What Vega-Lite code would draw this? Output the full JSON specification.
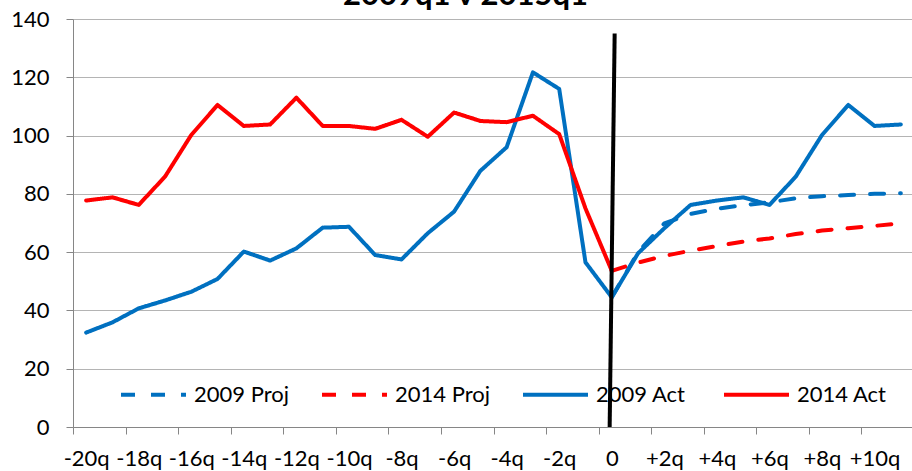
{
  "$schema": "https://vega.github.io/schema/vega-lite/v6.json",
  "width": 841,
  "height": 408,
  "autosize": {"type": "none"},
  "padding": {"left": 73, "top": 19, "right": 0, "bottom": 44},
  "background": "white",
  "config": {"view": {"stroke": null}, "font": "Lato"},
  "title": {"text": "2009q1 v 2015q1", "font": "Lato", "fontSize": 31, "fontWeight": "bold", "color": "#000000", "anchor": "middle", "frame": "group", "dx": -28, "offset": -35, "baseline": "bottom"},
  "datasets": {
    "series": [
      {"q": 0, "v": 44.5, "s": "2009 Proj"}, {"q": 1, "v": 60.0, "s": "2009 Proj"}, {"q": 2, "v": 69.9, "s": "2009 Proj"}, {"q": 3, "v": 73.1, "s": "2009 Proj"}, {"q": 4, "v": 74.9, "s": "2009 Proj"}, {"q": 5, "v": 76.1, "s": "2009 Proj"}, {"q": 6, "v": 77.1, "s": "2009 Proj"}, {"q": 7, "v": 78.5, "s": "2009 Proj"}, {"q": 8, "v": 79.2, "s": "2009 Proj"}, {"q": 9, "v": 79.6, "s": "2009 Proj"}, {"q": 10, "v": 80.0, "s": "2009 Proj"}, {"q": 11, "v": 80.2, "s": "2009 Proj"},
      {"q": 0, "v": 53.6, "s": "2014 Proj"}, {"q": 1, "v": 56.4, "s": "2014 Proj"}, {"q": 2, "v": 58.7, "s": "2014 Proj"}, {"q": 3, "v": 60.5, "s": "2014 Proj"}, {"q": 4, "v": 62.1, "s": "2014 Proj"}, {"q": 5, "v": 63.6, "s": "2014 Proj"}, {"q": 6, "v": 64.7, "s": "2014 Proj"}, {"q": 7, "v": 66.2, "s": "2014 Proj"}, {"q": 8, "v": 67.4, "s": "2014 Proj"}, {"q": 9, "v": 68.2, "s": "2014 Proj"}, {"q": 10, "v": 69.0, "s": "2014 Proj"}, {"q": 11, "v": 69.9, "s": "2014 Proj"},
      {"q": -20, "v": 32.4, "s": "2009 Act"}, {"q": -19, "v": 35.9, "s": "2009 Act"}, {"q": -18, "v": 40.7, "s": "2009 Act"}, {"q": -17, "v": 43.4, "s": "2009 Act"}, {"q": -16, "v": 46.4, "s": "2009 Act"}, {"q": -15, "v": 50.8, "s": "2009 Act"}, {"q": -14, "v": 60.2, "s": "2009 Act"}, {"q": -13, "v": 57.1, "s": "2009 Act"}, {"q": -12, "v": 61.3, "s": "2009 Act"}, {"q": -11, "v": 68.4, "s": "2009 Act"}, {"q": -10, "v": 68.7, "s": "2009 Act"}, {"q": -9, "v": 59.0, "s": "2009 Act"}, {"q": -8, "v": 57.5, "s": "2009 Act"}, {"q": -7, "v": 66.5, "s": "2009 Act"}, {"q": -6, "v": 73.9, "s": "2009 Act"}, {"q": -5, "v": 87.9, "s": "2009 Act"}, {"q": -4, "v": 96.0, "s": "2009 Act"}, {"q": -3, "v": 121.7, "s": "2009 Act"}, {"q": -2, "v": 116.0, "s": "2009 Act"}, {"q": -1, "v": 56.5, "s": "2009 Act"}, {"q": 0, "v": 44.5, "s": "2009 Act"}, {"q": 1, "v": 59.6, "s": "2009 Act"}, {"q": 2, "v": 68.2, "s": "2009 Act"}, {"q": 3, "v": 76.2, "s": "2009 Act"}, {"q": 4, "v": 77.7, "s": "2009 Act"}, {"q": 5, "v": 78.8, "s": "2009 Act"}, {"q": 6, "v": 76.2, "s": "2009 Act"}, {"q": 7, "v": 85.9, "s": "2009 Act"}, {"q": 8, "v": 100.2, "s": "2009 Act"}, {"q": 9, "v": 110.5, "s": "2009 Act"}, {"q": 10, "v": 103.3, "s": "2009 Act"}, {"q": 11, "v": 103.8, "s": "2009 Act"},
      {"q": -20, "v": 77.7, "s": "2014 Act"}, {"q": -19, "v": 78.8, "s": "2014 Act"}, {"q": -18, "v": 76.2, "s": "2014 Act"}, {"q": -17, "v": 85.9, "s": "2014 Act"}, {"q": -16, "v": 100.2, "s": "2014 Act"}, {"q": -15, "v": 110.5, "s": "2014 Act"}, {"q": -14, "v": 103.3, "s": "2014 Act"}, {"q": -13, "v": 103.8, "s": "2014 Act"}, {"q": -12, "v": 113.0, "s": "2014 Act"}, {"q": -11, "v": 103.3, "s": "2014 Act"}, {"q": -10, "v": 103.3, "s": "2014 Act"}, {"q": -9, "v": 102.3, "s": "2014 Act"}, {"q": -8, "v": 105.4, "s": "2014 Act"}, {"q": -7, "v": 99.6, "s": "2014 Act"}, {"q": -6, "v": 107.9, "s": "2014 Act"}, {"q": -5, "v": 105.0, "s": "2014 Act"}, {"q": -4, "v": 104.6, "s": "2014 Act"}, {"q": -3, "v": 106.8, "s": "2014 Act"}, {"q": -2, "v": 100.5, "s": "2014 Act"}, {"q": -1, "v": 75.0, "s": "2014 Act"}, {"q": 0, "v": 53.6, "s": "2014 Act"}
    ],
    "marker": [
      {"x": -0.08, "y": 0, "x2": 0.11, "y2": 135}
    ]
  },
  "layer": [
    {
      "data": {"name": "series"},
      "mark": {"type": "line", "strokeWidth": 4, "strokeCap": "round", "strokeJoin": "round"},
      "encoding": {
        "x": {
          "field": "q", "type": "quantitative",
          "scale": {"domain": [-20.5, 11.5], "nice": false, "zero": false},
          "axis": {
            "title": null,
            "values": [-20, -19, -18, -17, -16, -15, -14, -13, -12, -11, -10, -9, -8, -7, -6, -5, -4, -3, -2, -1, 0, 1, 2, 3, 4, 5, 6, 7, 8, 9, 10, 11],
            "labelExpr": "datum.value % 2 != 0 ? '' : (datum.value == 0 ? '0' : (datum.value > 0 ? '+' + datum.value + 'q' : datum.value + 'q'))",
            "tickOffset": -13.14,
            "labelOffset": 13.14,
            "grid": false,
            "domain": true, "domainColor": "#868686", "domainWidth": 1,
            "ticks": true, "tickColor": "#868686", "tickSize": 7, "tickWidth": 1,
            "labelFont": "Lato", "labelFontSize": 22, "labelColor": "#000000",
            "labelPadding": 14, "labelOverlap": false, "labelFlush": false
          }
        },
        "y": {
          "field": "v", "type": "quantitative",
          "scale": {"domain": [0, 140], "nice": false},
          "axis": {
            "title": null,
            "values": [0, 20, 40, 60, 80, 100, 120, 140],
            "grid": true, "gridColor": "#B4B4B4", "gridWidth": 1,
            "domain": true, "domainColor": "#868686", "domainWidth": 1,
            "ticks": true, "tickColor": "#868686", "tickSize": 7, "tickWidth": 1,
            "labelFont": "Lato", "labelFontSize": 22, "labelColor": "#000000",
            "labelPadding": 17
          }
        },
        "color": {
          "field": "s", "type": "nominal",
          "scale": {"domain": ["2009 Proj", "2014 Proj", "2009 Act", "2014 Act"], "range": ["#0070C0", "#FF0000", "#0070C0", "#FF0000"]},
          "legend": {
            "title": null, "orient": "none", "legendX": 46, "legendY": 341,
            "direction": "horizontal", "columns": 4, "gridAlign": "all", "columnPadding": 25,
            "symbolType": "stroke", "symbolSize": 4225, "symbolStrokeWidth": 4,
            "labelFont": "Lato", "labelFontSize": 22, "labelColor": "#000000", "labelOffset": 6,
            "padding": 0, "rowPadding": 0
          }
        },
        "strokeDash": {
          "field": "s", "type": "nominal",
          "scale": {"domain": ["2009 Proj", "2014 Proj", "2009 Act", "2014 Act"], "range": [[14, 16], [14, 16], [1, 0], [1, 0]]}
        },
        "order": {"field": "q", "type": "quantitative"}
      }
    },
    {
      "data": {"name": "marker"},
      "mark": {"type": "rule", "color": "#000000", "strokeWidth": 4},
      "encoding": {
        "x": {"field": "x", "type": "quantitative"},
        "x2": {"field": "x2"},
        "y": {"field": "y", "type": "quantitative"},
        "y2": {"field": "y2"}
      }
    }
  ]
}
